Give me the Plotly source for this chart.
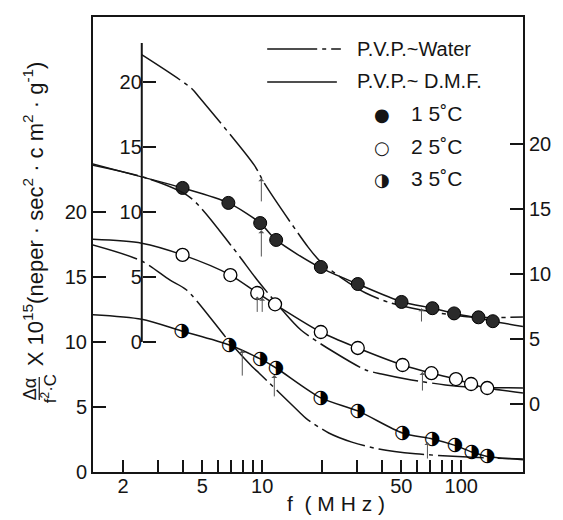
import numpy as np
import plotly.graph_objects as go

# ---------------- data ----------------
# 15 C  (inner axis, offset scale)
f15_pts = [3.98, 6.76, 9.77, 11.75, 19.7, 30.2, 50.1, 71.6, 92, 122, 144]
v15_pts = [11.85, 10.7, 9.15, 7.85, 5.77, 4.46, 3.08, 2.6, 2.2, 1.9, 1.6]
f15_dmf = [1.41, 2.48, 3.98, 6.76, 9.77, 11.75, 19.7, 30.2, 50.1, 71.6, 92, 122, 144, 204]
v15_dmf = [13.7, 12.7, 11.85, 10.7, 9.15, 7.85, 5.7, 4.46, 3.1, 2.6, 2.2, 1.85, 1.6, 1.2]
f15_wat = [2.48, 4.42, 4.84, 9.12, 10.35, 17.0, 19.7, 25.1, 33.1, 44.2, 63.1, 112, 204]
v15_wat = [22.1, 19.5, 18.8, 13.6, 12.1, 7.3, 6.15, 4.92, 3.77, 3.0, 2.46, 1.92, 1.92]

# 25 C  (right axis)
f25_pts = [3.98, 6.92, 9.44, 11.6, 19.7, 30.2, 50.7, 70.8, 94, 112, 135]
v25_pts = [11.5, 9.95, 8.57, 7.7, 5.57, 4.34, 3.03, 2.4, 1.95, 1.57, 1.26]
f25_dmf = [1.41, 2.48, 3.98, 6.92, 9.44, 11.6, 19.7, 30.2, 50.7, 70.8, 94, 112, 135, 204]
v25_dmf = [12.7, 12.4, 11.5, 9.95, 8.57, 7.7, 5.57, 4.34, 3.03, 2.4, 1.95, 1.57, 1.26, 0.88]
f25_wat = [1.41, 2.63, 4.32, 7.08, 9.44, 12.6, 15.7, 22.9, 33.1, 39.8, 56.2, 83.2, 108, 204]
v25_wat = [18.4, 17.4, 15.95, 12.1, 9.57, 7.26, 5.7, 4.03, 2.65, 2.34, 1.88, 1.5, 1.34, 1.26]

# 35 C  (main left axis)
f35_pts = [3.94, 6.84, 9.77, 11.75, 19.7, 30.2, 50.7, 71.6, 93, 113, 135]
v35_pts = [10.85, 9.77, 8.7, 8.0, 5.7, 4.7, 3.0, 2.54, 2.05, 1.54, 1.2]
f35_dmf = [1.41, 2.48, 3.94, 6.84, 9.77, 11.75, 19.7, 30.2, 50.7, 71.6, 93, 113, 135, 204]
v35_dmf = [12.1, 11.75, 10.85, 9.77, 8.7, 8.0, 5.7, 4.7, 3.0, 2.54, 2.05, 1.54, 1.2, 0.95]
f35_wat = [1.41, 2.48, 3.43, 4.17, 6.99, 8.91, 9.66, 15.3, 16.6, 21.6, 28.2, 38.5, 58.9, 108, 204]
v35_wat = [17.46, 16.23, 14.77, 14.0, 9.85, 8.1, 7.6, 4.64, 4.13, 3.0, 2.3, 1.77, 1.4, 1.15, 1.0]

# relaxation-frequency arrows: (f, axis, head value, tail value)
arrows = [
    (9.9, "y2", 12.6, 10.7), (9.9, "y2", 8.6, 6.46), (63.1, "y2", 2.6, 1.46),
    (9.44, "y3", 8.3, 7.0), (10.0, "y3", 8.2, 7.0), (63.8, "y3", 2.5, 0.95),
    (7.94, "y", 9.38, 7.3), (11.5, "y", 7.46, 5.7), (67.6, "y", 2.3, 0.92),
]

x_tickvals = [2, 3, 4, 5, 6, 7, 8, 9, 10, 20, 30, 40, 50, 60, 70, 80, 90, 100]
x_ticktext = ["2", "", "", "5", "", "", "", "", "10", "", "", "", "50", "", "", "", "", "100"]
y_tickvals = [0, 5, 10, 15, 20]

# ---------------- figure ----------------
INK = "#151515"
FONT = "Liberation Sans"
DASHDOT = "46px,5px,4px,5px"

fig = go.Figure()

def curve(fx, vy, axis, dash):
    fig.add_trace(go.Scatter(x=fx, y=vy, yaxis=axis, mode="lines",
                             line=dict(color=INK, width=1.5, dash=dash, shape="spline", smoothing=0.8),
                             showlegend=False, hoverinfo="skip"))

curve(f15_dmf, v15_dmf, "y2", "solid")
curve(f15_wat, v15_wat, "y2", DASHDOT)
curve(f25_dmf, v25_dmf, "y3", "solid")
curve(f25_wat, v25_wat, "y3", DASHDOT)
curve(f35_dmf, v35_dmf, "y", "solid")
curve(f35_wat, v35_wat, "y", DASHDOT)

fig.add_trace(go.Scatter(x=f15_pts, y=v15_pts, yaxis="y2", mode="markers",
                         marker=dict(symbol="circle", size=13, color="#2a2a2a",
                                     line=dict(color="black", width=1)),
                         showlegend=False))
fig.add_trace(go.Scatter(x=f25_pts, y=v25_pts, yaxis="y3", mode="markers",
                         marker=dict(symbol="circle", size=13, color="white",
                                     line=dict(color="black", width=1.3)),
                         showlegend=False))
fig.add_trace(go.Scatter(x=f35_pts, y=v35_pts, yaxis="y", mode="text",
                         text=["◑"] * len(f35_pts), textposition="middle center",
                         textfont=dict(family="DejaVu Sans", size=19, color="black"),
                         showlegend=False))

for fa, ax_, head, tail in arrows:
    fig.add_annotation(x=np.log10(fa), y=head, xref="x", yref=ax_,
                       ax=np.log10(fa), ay=tail, axref="x", ayref=ax_,
                       showarrow=True, arrowhead=1, arrowsize=1, arrowwidth=1,
                       arrowcolor="#555", text="")

W, H = 563, 520
L, R, T, B = 93, 525, 17, 472
def px(x):
    return (x - L) / (R - L)
def py(y):
    return (B - y) / (B - T)

axis_common = dict(ticks="inside", ticklen=13, tickwidth=1.5, tickcolor=INK,
                   showgrid=False, zeroline=False,
                   tickfont=dict(family=FONT, size=20, color=INK))

fig.update_layout(
    width=W, height=H,
    margin=dict(l=L, r=W - R, t=T, b=H - B),
    paper_bgcolor="white", plot_bgcolor="white",
    showlegend=False,
    xaxis=dict(type="log", range=[0.15, 2.31], tickvals=x_tickvals, ticktext=x_ticktext,
               ticks="inside", ticklen=12, tickwidth=1.5, tickcolor=INK,
               showline=True, linewidth=2, linecolor=INK, mirror=True,
               showgrid=False, zeroline=False, ticklabelstandoff=-5,
               tickfont=dict(family=FONT, size=20, color=INK)),
    yaxis=dict(range=[0, 35], tickvals=y_tickvals, showline=True, linewidth=2,
               linecolor=INK, **axis_common),
    yaxis2=dict(range=[-10, 25], tickvals=y_tickvals, overlaying="y", anchor="free",
                position=px(142), showline=False, **axis_common),
    yaxis3=dict(range=[-5.2, 29.8], tickvals=y_tickvals, overlaying="y", side="right",
                anchor="x", showline=True, linewidth=2, linecolor=INK, **axis_common),
)

# inner axis line (only spans its own scale)
fig.add_shape(type="line", xref="paper", yref="y2", x0=px(142), x1=px(142), y0=0, y1=23,
              line=dict(color=INK, width=2))

def note(x, y, text, size, angle=0, xanchor="center", family=FONT):
    fig.add_annotation(xref="paper", yref="paper", x=px(x), y=py(y), textangle=angle,
                       xanchor=xanchor, yanchor="middle", showarrow=False, text=text,
                       font=dict(family=family, size=size, color=INK))

# axis titles
note(33, 214, "X 10<sup>15</sup>(neper · sec<sup>2</sup> · c m<sup>2</sup> · g<sup>-1</sup>)", 22, angle=-90)
note(30, 389, "Δα", 18, angle=-90)
note(49, 389, "f<sup>2</sup>·C", 17, angle=-90)
fig.add_shape(type="line", xref="paper", yref="paper", x0=px(39), x1=px(39),
              y0=py(377), y1=py(400), line=dict(color=INK, width=1.2))
note(337, 503, "f  ( M H z )", 21)

# legend (drawn by hand)
fig.add_shape(type="line", xref="paper", yref="paper", x0=px(268), x1=px(342),
              y0=py(49), y1=py(49), line=dict(color=INK, width=1.5, dash="50px,5px,4px,5px"))
fig.add_shape(type="line", xref="paper", yref="paper", x0=px(268), x1=px(338),
              y0=py(82), y1=py(82), line=dict(color=INK, width=1.5))
note(356, 49, "P.V.P.~Water", 20, xanchor="left")
note(356, 81, "P.V.P.~ D.M.F.", 20, xanchor="left")
for sym, yy, lab in [("●", 114, "1 5˚C"), ("○", 147, "2 5˚C"), ("◑", 180, "3 5˚C")]:
    note(383, yy, sym, 18, family="DejaVu Sans")
    note(410, yy - 1, lab, 21, xanchor="left")

fig.write_html("out.html")
